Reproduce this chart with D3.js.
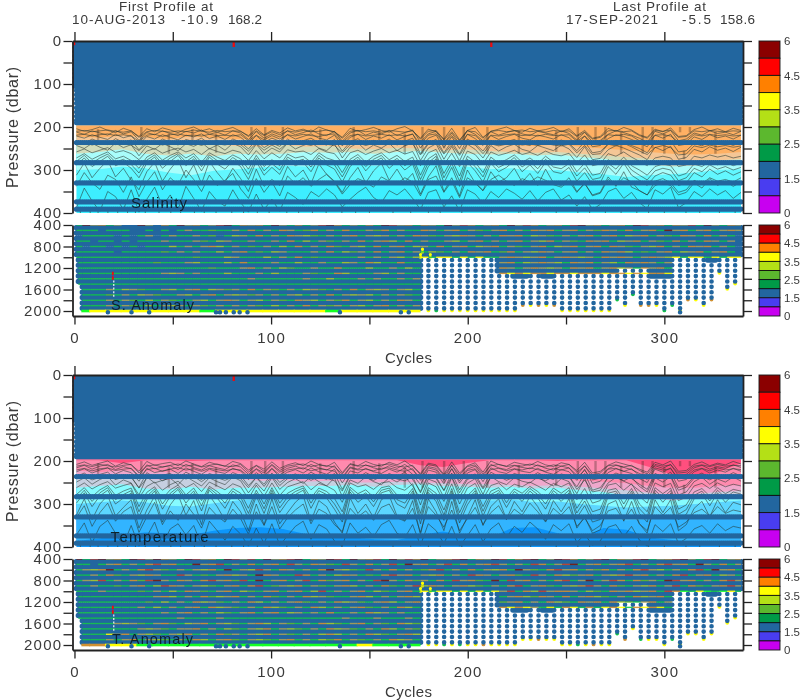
<!DOCTYPE html>
<html><head><meta charset="utf-8"><title>Float profiles</title>
<style>html,body{margin:0;padding:0;background:#fff}svg{display:block}</style>
<script src="https://cdn.jsdelivr.net/npm/d3@7"></script></head><body>
<div id="chart"></div>
<script>
// ---------- text ----------
const firstProfile = ["First Profile at","10-AUG-2013","-10.9","168.2"];
const lastProfile = ["Last Profile at","17-SEP-2021","-5.5","158.6"];
const panelNames = ["Salinity","S. Anomaly","Temperature","T. Anomaly"];
const colorbarLabels = ["6","4.5","3.5","2.5","1.5","0"];
const colorbarLabelIndex = [0,2,4,6,8,10];
const colorbarColors = ["#8b0000","#ff0000","#ff8000","#ffff00","#b4e014","#5cb82e","#009a46","#22669f","#4a3cf0","#c800f0"];
const upperTicks = [0,50,100,150,200,250,300,350,400];
const upperLabels = [0,100,200,300,400];
const lowerTicks = [400,600,800,1000,1200,1400,1600,1800,2000];
const lowerLabels = [400,800,1200,1600,2000];
const cycleTicks = [0,50,100,150,200,250,300];
const cycleLabels = [0,100,200,300];

// ---------- sampled levels ----------
const solidLevels = [5,15,25,35,45,55,65,75,85,95,105,115,125,135,145,155,165,175,185,190];
const bandLevels = [236,283,330,374,391];
const lowerLevels = [450,550,650,750,850,950,1050,1150,1250,1350,1450,1550,1650,1750,1850,1950];
const shallowFrom = [1,2,4,177,215,223,231,238,244,260,276,293,304,322,327];
const shallowMax  = [950,1450,1950,950,1250,1350,1250,1350,1250,1250,1150,1350,950,1050,950];
const deepCycles = [180,184,188,192,196,200,204,208,212,216,220,224,228,232,236,240,244,248,252,256,260,264,268,272,276,280,284,288,292,296,300,304,308,312,316,320,324,328,332,336];
const deepMax = [1950,1950,1950,1950,1950,1950,1950,1950,1950,1950,1950,1950,1850,1850,1850,1850,1850,1950,1950,1950,1950,1950,1950,1950,1750,1850,1650,1850,1850,1850,1950,1850,1950,1750,1750,1850,1750,1250,1550,1450];
const bottomDotCycles = [17,29,38,72,74,77,81,84,88,135,166,170,308];
const blobCycles = [177,177,176,176,181,181];
const blobLevels = [850,900,950,1000,950,1000];

// ---------- salinity contours (pressure along the cycles) ----------
const salContours = [
[204,210,206,200,208,213,203,209,222,204,211,202,207,213,205,200,209,204,212,206,201,210,220,204,218,208,214,202,209,205,212,200,207,211,224,203,210,206,201,208,212,204,199,209,226,205,211,228,203,230,208,201,224,210,205,200,208,212,203,209,206,201,211,204,220,208,226,222,203,210,201,207,218,224,205,211,202,222,220,206,200,209,204,211,203,208],
[210,208,211,209,207,210,212,209,224,211,208,210,212,209,211,207,210,212,208,211,209,210,222,209,220,211,218,209,212,208,211,210,207,212,226,210,208,211,209,212,208,210,212,209,228,210,208,230,211,232,209,211,226,210,208,211,209,207,211,209,212,208,210,209,222,212,228,224,209,208,211,209,220,226,208,210,207,224,222,209,211,208,210,211,209,210],
[212,217,209,214,219,208,216,211,231,213,218,209,215,220,210,214,207,217,212,219,209,214,229,211,226,216,223,209,218,213,207,216,220,210,233,214,208,219,212,216,209,220,213,207,235,216,210,238,214,239,208,217,232,211,219,213,208,216,220,210,214,218,209,215,230,212,235,231,217,209,213,219,226,236,210,216,208,232,228,214,219,209,215,212,218,210],
[219,217,221,218,216,220,218,221,233,219,217,222,218,216,220,219,221,217,220,219,221,218,232,219,230,220,228,218,221,217,220,222,218,216,236,220,217,221,219,217,220,218,221,217,240,219,216,238,220,241,217,220,236,219,221,218,216,220,218,221,217,220,219,218,233,221,238,235,218,220,217,221,232,238,219,218,221,235,233,218,221,217,220,218,221,219],
[221,226,218,224,229,217,225,220,241,222,228,218,224,230,219,223,216,227,221,229,218,224,239,220,236,226,233,218,228,222,216,226,230,219,244,224,217,229,221,226,218,230,222,216,249,226,219,248,223,250,217,227,243,220,229,222,217,226,230,219,223,228,218,225,241,221,246,243,227,218,222,229,237,246,219,226,217,243,240,223,229,218,225,221,228,219],
[232,238,228,235,241,227,236,230,253,233,240,228,235,242,229,234,226,239,231,241,228,235,251,230,248,237,245,228,239,232,226,237,242,229,256,235,227,241,231,237,228,242,233,226,262,237,229,260,234,263,228,239,256,231,242,234,229,239,243,231,236,241,230,238,255,234,260,257,240,231,236,243,250,260,234,241,232,258,255,238,244,233,240,236,243,234],
[240,236,242,237,234,241,238,242,255,239,236,242,238,235,240,237,243,236,239,242,237,241,256,238,254,242,252,237,240,239,243,236,240,243,260,241,237,243,238,236,241,237,242,239,265,240,236,263,241,266,238,242,262,239,244,240,237,242,239,243,238,242,244,240,260,243,264,262,240,244,238,246,256,264,248,243,248,265,263,244,248,242,246,243,247,244],
[243,250,238,247,254,237,248,241,267,244,252,238,246,255,239,245,236,251,242,254,238,246,265,240,262,249,258,238,251,243,236,249,255,239,272,247,237,254,242,249,238,255,244,236,278,249,239,275,245,279,240,252,272,243,256,246,240,252,257,243,249,255,242,251,271,246,276,273,253,243,249,257,265,276,247,255,245,275,271,252,258,246,254,249,257,247],
[258,251,260,254,248,259,255,262,276,256,250,261,254,249,258,252,264,250,257,262,254,259,278,255,274,260,272,253,258,256,264,250,258,262,284,260,254,264,256,250,260,254,263,257,290,260,252,288,261,292,256,264,286,258,266,261,254,264,259,266,256,264,267,261,284,265,290,286,262,268,258,270,280,290,272,268,272,292,288,268,272,265,270,266,272,268],
[272,262,275,266,258,274,268,278,296,270,260,277,266,258,272,262,282,260,270,278,265,274,298,266,292,276,290,263,272,268,282,260,272,278,306,275,264,282,268,260,276,266,280,270,312,274,262,308,276,314,268,282,306,270,284,276,265,282,272,286,268,282,286,276,304,284,312,308,276,288,270,290,300,312,292,286,290,314,308,286,292,280,288,282,290,284],
[280,266,284,272,263,282,275,287,307,277,265,286,272,262,281,268,292,265,278,288,271,283,310,273,302,285,300,270,281,275,293,266,280,288,316,283,270,292,275,266,286,273,290,278,322,283,268,318,285,326,275,292,316,277,294,285,271,293,280,297,275,293,297,285,314,295,322,318,284,298,277,300,312,323,302,296,300,325,318,296,304,288,298,292,300,294],
[288,272,292,280,268,290,282,296,318,284,270,296,280,266,290,274,302,270,286,298,278,292,322,280,312,294,310,276,290,282,304,272,288,298,328,292,276,302,282,272,296,280,300,286,334,292,274,330,294,338,282,302,328,284,304,294,278,304,288,308,282,304,308,294,326,306,334,330,292,310,284,312,324,336,314,306,312,336,330,306,316,298,310,302,312,304],
[312,284,318,296,278,316,296,324,346,304,282,326,298,276,318,288,332,280,306,328,296,320,350,298,338,322,336,292,316,300,332,286,310,326,352,318,294,330,302,284,324,298,328,308,356,316,290,350,318,360,300,330,348,304,328,318,296,328,308,336,298,330,336,318,350,332,358,352,316,338,304,340,348,358,336,330,336,358,352,330,342,320,336,326,338,328],
[338,306,330,345,312,322,352,316,362,328,304,346,318,334,300,322,350,312,336,324,308,344,366,320,352,328,360,314,332,318,338,322,310,328,356,334,320,328,340,316,326,332,318,328,360,322,314,352,326,364,318,330,348,322,312,326,336,320,328,316,324,334,340,326,352,330,360,354,322,336,318,328,348,358,326,320,330,352,346,324,332,318,326,322,328,318],
[388,342,372,396,350,362,392,346,398,368,340,384,358,392,338,366,396,350,372,384,346,376,398,356,392,368,396,352,364,380,350,362,344,358,386,368,352,340,364,376,348,358,344,366,392,352,346,386,360,396,346,356,378,350,364,344,354,368,348,372,352,344,370,358,384,362,392,380,350,342,366,352,376,390,346,356,340,388,376,350,362,344,358,348,366,352]
];
const salFill = [
[222,225,220,224,228,222,226,228,230,226,232,228,234,236,232,236,240,236,238,242,244,240,246,250,254,258,262,264,262,258],
[236,240,236,238,242,238,240,244,246,242,246,244,250,252,248,250,254,252,256,258,260,258,262,266,270,274,278,280,278,274],
[262,258,252,262,266,262,268,262,264,262,258,260,258,262,258,256,260,262,264,262,266,264,270,274,282,288,292,290,284,282],
[300,298,292,296,306,312,302,298,294,290,292,288,286,290,288,284,290,292,298,296,302,300,306,310,316,312,310,306,300,298],
[330,328,326,330,332,328,330,332,330,328,326,328,330,332,328,330,332,330,334,332,330,332,334,336,338,336,334,332,330,328]
];
const salFillColors = ["#ffb063","#f4c696","#d3ddbc","#a9fdfb","#62f7ff","#3ceeff"];

// ---------- temperature contours ----------
const tempContours = [
[208,202,210,205,200,212,204,209,224,201,210,206,203,211,200,207,213,203,208,212,201,206,221,210,219,202,217,209,204,211,200,208,213,203,227,206,211,201,208,212,203,209,200,213,229,205,209,231,202,228,211,204,226,200,208,212,203,207,210,201,209,213,204,208,222,203,228,224,210,202,207,212,219,226,203,209,200,224,222,208,202,211,205,209,201,207],
[212,209,213,208,211,214,210,208,228,212,209,214,210,207,212,209,214,210,207,212,213,208,226,211,224,208,222,212,209,207,213,209,211,214,230,208,212,210,213,209,207,212,214,210,232,208,212,234,210,232,213,209,230,211,208,213,210,212,207,211,214,209,212,208,226,212,232,228,211,209,214,210,222,230,208,212,209,228,226,212,209,213,208,212,210,211],
[216,210,219,212,208,220,213,218,234,209,218,214,211,220,208,215,221,211,216,220,209,214,231,218,228,210,226,217,212,219,208,216,221,211,238,214,219,209,216,220,211,217,208,221,240,213,217,242,210,239,219,212,236,208,216,220,211,215,218,209,217,221,212,216,233,211,239,235,218,210,215,220,229,237,211,217,208,234,231,216,210,219,213,217,209,215],
[221,217,223,218,216,222,219,217,238,220,217,224,219,215,221,218,224,217,220,223,219,221,236,219,234,217,232,221,218,216,223,218,220,224,241,216,221,219,223,217,216,221,224,218,245,216,221,245,218,246,222,218,240,220,217,223,218,221,216,220,224,217,221,216,238,222,244,240,219,217,224,218,234,243,216,221,218,240,236,221,217,223,216,221,218,220],
[225,218,228,221,216,230,222,227,247,217,227,223,219,229,216,224,231,219,225,229,217,223,243,227,240,218,237,226,220,228,216,225,231,219,251,223,228,217,225,229,219,226,216,231,255,221,226,253,218,251,228,220,248,216,225,229,219,224,227,217,226,231,220,225,245,219,252,247,227,218,224,229,241,250,219,226,216,247,243,225,218,228,221,226,217,224],
[236,228,240,231,226,242,232,238,262,227,238,233,229,241,226,235,243,229,236,241,227,234,257,238,254,228,250,237,230,239,226,236,243,229,266,233,239,227,236,241,229,237,226,243,271,231,237,268,228,267,239,230,262,226,236,241,229,235,238,227,237,243,230,236,260,229,268,262,238,228,235,241,254,266,229,237,226,262,256,236,228,240,231,237,227,235],
[242,235,244,238,233,243,238,236,263,240,234,246,238,232,242,236,248,235,239,245,237,241,262,238,259,235,257,241,237,234,245,236,240,246,270,235,241,238,245,236,233,242,246,237,274,235,241,269,237,274,243,236,265,239,235,245,237,241,234,240,246,236,241,235,266,244,272,268,238,236,246,237,259,272,235,241,236,268,261,240,236,244,235,241,237,239],
[249,239,254,243,236,256,244,251,279,237,251,245,240,255,236,247,258,239,248,255,237,246,274,251,270,238,266,250,241,252,236,248,258,239,283,244,252,237,248,255,239,249,236,258,289,242,249,285,238,284,252,241,278,236,248,255,239,247,251,237,249,258,241,248,276,239,285,278,251,238,247,255,269,283,239,249,236,279,272,248,238,254,242,249,237,247],
[262,251,265,255,248,263,257,252,286,259,249,268,255,247,262,252,271,249,258,267,253,260,288,256,282,251,280,260,254,248,267,252,258,268,296,251,260,255,266,251,248,262,268,253,302,251,260,294,253,300,263,252,288,257,251,267,254,260,249,258,268,252,260,251,290,264,298,292,256,252,268,253,282,298,251,260,252,292,284,258,252,264,251,260,254,258],
[278,262,283,267,257,280,270,263,306,273,260,288,267,256,279,263,292,259,271,286,264,275,310,268,300,262,298,275,265,258,286,263,271,287,318,261,276,267,284,262,258,279,287,264,322,262,275,314,264,320,281,263,306,270,262,286,265,275,259,271,288,263,275,262,310,282,318,312,268,264,288,264,300,318,262,276,263,312,302,272,264,282,262,276,266,270],
[288,268,294,274,262,290,278,269,318,282,265,300,275,261,288,270,304,263,278,298,270,284,322,275,311,268,309,284,271,263,298,269,278,300,330,266,286,274,295,268,263,290,298,270,334,267,284,326,270,332,291,269,317,278,268,297,271,284,264,278,300,269,284,268,321,293,330,324,275,270,300,270,311,330,268,286,269,324,313,280,270,293,268,286,272,277],
[298,274,306,281,268,300,286,275,330,290,270,312,282,266,298,276,316,268,286,310,277,294,334,282,322,274,320,294,278,268,310,276,286,312,342,272,296,282,306,274,268,300,310,276,346,273,294,338,276,344,302,275,328,286,274,308,277,294,270,286,312,276,294,274,332,304,342,336,282,276,312,276,322,342,274,296,275,336,324,288,276,304,274,296,278,284],
[326,288,336,300,280,328,308,290,356,314,282,342,302,278,326,292,348,280,306,338,294,318,362,300,348,288,346,320,296,280,340,292,306,342,368,286,322,300,332,290,280,328,338,292,372,288,318,362,294,368,330,290,350,306,288,336,294,318,282,306,340,292,318,288,356,330,368,360,300,292,340,294,346,368,290,320,290,362,348,310,294,330,290,320,296,302],
[332,304,352,320,298,340,318,306,366,330,296,348,316,338,300,324,356,308,328,342,312,334,370,318,350,306,358,332,314,300,346,312,322,348,364,310,330,316,338,308,300,332,340,310,366,306,326,354,314,362,334,308,348,320,304,336,312,326,298,318,342,310,326,306,352,332,362,350,316,310,338,312,346,362,306,326,308,354,342,320,312,328,306,322,314,318],
[372,344,390,352,338,368,396,350,398,376,342,394,358,346,372,350,396,340,362,384,352,370,398,356,392,346,396,374,352,340,382,348,358,386,398,344,368,354,376,348,338,368,378,348,396,346,362,392,352,398,374,348,388,358,344,378,352,366,342,358,382,348,362,346,390,370,396,386,354,348,376,352,384,398,348,364,346,392,380,358,350,368,346,362,352,356]
];
const tempFill = [
[198,198,205,198,198,200,198,198,198,198,198,198,198,198,198,210,214,205,198,198,198,200,198,198,198,214,232,236,226,205],
[222,226,222,224,226,224,226,228,230,228,232,230,234,232,230,234,240,236,240,244,244,242,246,248,252,258,262,262,258,256],
[238,242,240,242,244,240,240,242,246,244,248,246,250,250,248,250,252,254,254,256,258,256,260,264,268,274,278,276,272,270],
[262,258,254,264,266,260,266,262,262,260,258,258,256,260,256,254,258,260,262,260,264,262,268,272,280,286,292,288,282,280],
[300,296,292,296,304,306,298,292,288,286,288,284,284,286,284,282,286,288,292,290,296,294,300,304,308,306,304,300,296,292],
[336,332,328,332,334,330,332,336,330,326,326,328,330,330,326,328,330,328,332,330,328,330,332,336,338,336,332,330,328,326],
[386,380,372,366,368,372,362,356,354,358,370,376,378,382,384,372,364,374,380,356,354,368,380,356,360,378,384,388,388,386]
];
const tempFillColors = ["#ff4f7e","#ff8aae","#efa8cc","#c6cfe0","#86fbff","#5cd6ff","#30b4ff","#0a96fb"];

// dark streaks where the contours crowd together
const streakCycles = [12,34,48,60,72,90,97,106,125,142,155,168,177,188,198,210,226,245,256,265,270,278,289,294,300,308,313,310,326];
const streakTop =    [205,200,215,205,215,200,200,200,205,200,205,215,200,200,200,200,210,210,200,200,200,212,200,200,215,200,200,255,212];
const streakBottom = [232,236,262,240,260,236,232,236,232,236,230,262,262,250,236,262,262,258,232,236,232,262,262,250,262,212,212,275,262];
// short vertical marks below the deepest row
const deepMarkCycles = [3,8,12,17,22,27,31,36,43,49,54,61,66,72,80,86,93,99,108,114,121,128,136,143,150,162,171,180,186,197,212,226,232,245,256,262,270,278,286,292,300,311,318,328,336];
const redMarkCycles = [81,212];
const redMarkCyclesT = [81];

// ---------- anomaly stripes, one character per 4 cycles ----------
const stripeLevels = [400,500,600,700,800,900,1000,1100,1200,1300,1400,1500,1600,1700,1800,1900];
const salStripes = [
"gdnogn..dn.ogdnognrdgonogdngognrdogngogdrnogongdnrognogdnrognogrdnognogdrnogonrgdngon",
"ggg.ggg..g.g.gngglggngogngonglogngoggnlognggongnognlgnogngonognognlongognogdnognognon",
".gggg.g.gn.gnggngl.gyngogngonylgngnognyngngonlgnyongngonogynlgngnognogynognlgongogng",
"gg.gg.g.gggngggnlgynggnggngogygnlgngognoygognggnygnogngnognyognlgonogynognlgogngongn",
"g.gg.g.g.gggygngnoygnglgngygogngolgnygognogyngognogynognlgnogynognogonlgnyogngonogng",
"ggggg.ggggglgngnggygnoglgyngggngogylngognogngylgngonoglognyongnogngonoyglgnogynognog",
"ggggggggggggggglgggyngggygngoglgggggngngnygyYgYYgYgYggnonynognonyngonongnonyYgYYgYgYY",
"gggggggggglgggnygggygogggnggyggnggyngoyggogg..........nogynonygonognygonongn",
"ggggggggggggggggglgggnogngylggnggogggyggngyg..........ongnonyngonognoyngonog",
"gggggggggggnyngngggygggngygggnlggoygggnygngg..........oYoYooYooYoooYooYoYooY",
"ggggggggggggggggggggggnggggggnggygggngnggngn",
"gggggggggggggggggggggggggggggggggggggggggggg",
"ggggngynlggnygnogynlngognlgngynlgngognyngnyg",
"gggglgngynlggnygnognynlngngnygngognynygngnlg",
"ggggngnlgygnlggnygnongnygnlgonygnlognygngong",
"ggggngnlgygnyngnlgngngnlgygngognlngnygnogngn"
];
const tempStripes = [
"dgrdnogdrndongdrnogdrnrgdnordgondrgdnorgdnrodgnordgondrgordgndrognrdgonrdgnordngrdgnor",
"gg.gnogngornoggdnorgngognogrngonlgrngognrgdnognrgognorngngrognrdgnognorgngornogdngogn",
"gnyodgngornlgngnyogdgnyrngongngodnylgrngognglorgngognyogdnlgornognlogngornygngorgdnog",
"ggngolgnyonggrnglgnoyngdonggrogngyonglgornognyogngrongnolgrngoylnognyornogngorgnogyng",
"gnyrgngolrdngongornolrgdgnognrgolnogngrdngolngogrnolgdgrnogngorgndgnrogolngdrnogngorn",
"ggngglgnogyrongnylgnogorglnyognlgnoygngolgnryongnoylgngorgnolgnyorngolgnyognrgolgnorn",
"gggngggglgngygonlgnogylgnognogyrgngnogylgnogYgYYgYgYgYnrgoyrnoongylgonoynogroGgYGgGYgG",
"ggggggggggnoygngolynogngolgngoynlggnoygngnoy..........gnoylongognoylgngoynog",
"ggggggggglgygngoynlgngoygngnolgngoynlgnoygno..........lnogngoylgonogoylgnogn",
"ggggggggngygngnogoynlgngoylgngoygngnolgngoyg..........oYoYngYgoYgogYoYgoYoYg",
"gggggggggggngnogngylgnognogyngngoggngoyngngg",
"gggggggggggggnggggngggggggggggggggngggngggng",
"gggggnynlgnolgynognylgnoygnlgngoylgnognlgoyl",
"ggggggggnynlgnnogngylgnyognylgngoynlgngoygnl",
"ggggYnognylgnyogngolngnyognlgngyoygngoylgnoy",
"ggggngnognylgngoygnolgnylgnogngylognlgngoyng"
];
const salBottomRow = "GYYYYYYYGYYYYYYYGYYYYY";
const tempBottomRow = "ooYYGGGGGGGGGGGGGGYGGG";
const salTips = "YgYYYYYYYYYYoYoYoYYYYYYYgYgooYggYoYYoYYY";
const tempTips = "YYgYgYYoYYYYYYoYYYYgYoYYgoYgYYYgYYYYYYYY";
const stripeColors = {g:"#12c24a",G:"#14ff28",l:"#5cb82e",y:"#a8c82a",Y:"#ffff00",o:"#d09030",n:"#a8a055",r:"#c8402a",d:"#7a1a10"};
const dotBlue = "#22669f";

// ---------- layout ----------
const W=800,H=700,xL=72.5,xR=743;
const svg=d3.select("#chart").append("svg").attr("width",W).attr("height",H).attr("viewBox",[0,0,W,H]);
const defs=svg.append("defs");
defs.append("filter").attr("id","soft").attr("filterUnits","userSpaceOnUse").attr("x",0).attr("y",0).attr("width",W).attr("height",H)
  .append("feGaussianBlur").attr("stdDeviation",0.42);
const root=svg.append("g").attr("filter","url(#soft)");
const ink="#3a3a3a";
const font="'Liberation Sans',Arial,sans-serif";
const x=d3.scaleLinear().domain([-1,340]).range([xL,xR]);
const cyc=d3.range(1,340);
const cycWide=d3.range(0,341);

function dots(g,pts,r,color){
  const p=d3.path();
  pts.forEach(d=>{p.moveTo(d[0],d[1]);p.lineTo(d[0]+0.01,d[1]);});
  g.append("path").attr("d",p.toString()).attr("fill","none").attr("stroke",color)
   .attr("stroke-width",2*r).attr("stroke-linecap","round");
}
function clip(id,x0,y0,w,h){defs.append("clipPath").attr("id",id).append("rect").attr("x",x0).attr("y",y0).attr("width",w).attr("height",h);}
function alongCycle(arr){return d3.scaleLinear().domain([0,arr.length-1]).range([1,339]);}

function styleAxis(g){
  g.selectAll("path.domain").attr("stroke","#222").attr("stroke-width",1.8);
  g.selectAll(".tick line").attr("stroke","#222").attr("stroke-width",1.3);
  g.selectAll("text").attr("fill",ink).attr("font-family",font).attr("font-size",15).attr("letter-spacing",1.3);
}
function yAxes(g,y,ticks,labels){
  const fmt=d=>labels.includes(d)?d:"";
  g.append("g").attr("transform",`translate(${xL},0)`).call(d3.axisLeft(y).tickValues(ticks).tickFormat(fmt).tickSize(9).tickSizeOuter(0).tickPadding(1)).call(styleAxis);
  g.append("g").attr("transform",`translate(${xR},0)`).call(d3.axisRight(y).tickValues(ticks).tickFormat("").tickSize(9).tickSizeOuter(0)).call(styleAxis);
}
function colorbar(g,top,bottom,fs){
  const band=d3.scaleBand().domain(d3.range(colorbarColors.length)).range([top,bottom]);
  g.selectAll(null).data(colorbarColors).join("rect").attr("x",759).attr("width",21)
    .attr("y",(d,i)=>band(i)).attr("height",band.bandwidth()).attr("fill",d=>d).attr("stroke","#111").attr("stroke-width",0.9);
  g.selectAll(null).data(colorbarLabels).join("text").text(d=>d).attr("x",784)
    .attr("y",(d,i)=>top+colorbarLabelIndex[i]*band.step()).attr("dy","0.36em")
    .attr("font-family",font).attr("font-size",fs).attr("fill",ink);
}
function plain(g,str,xx,yy,len,size,col){
  const t=g.append("text").text(str).attr("x",xx).attr("y",yy).attr("dy","0.36em").attr("font-family",font)
    .attr("font-size",size).attr("fill",col||ink);
  if(len)t.attr("textLength",len).attr("lengthAdjust","spacing");
  return t;
}

function upperPanel(id,top,fills,fillColors,contours,redCycles,name,nameX,nameLen){
  const g=root.append("g");
  const y=d3.scaleLinear().domain([0,400]).range([top,top+172]);
  clip(id,xL,top,xR-xL,172);
  clip(id+"b",74,y(196),667.8,y(400)-y(196));
  const body=g.append("g").attr("clip-path",`url(#${id})`);
  const band=body.append("g").attr("clip-path",`url(#${id}b)`);
  band.append("rect").attr("x",x(1)).attr("y",y(196)).attr("width",x(339)-x(1)).attr("height",y(400)-y(196)).attr("fill",fillColors[fillColors.length-1]);
  for(let k=fills.length-1;k>=0;k--){
    const a=fills[k],s=alongCycle(a);
    band.append("path").attr("fill",fillColors[k])
      .attr("d",d3.area().x((d,i)=>x(s(i))).y0(y(196)).y1(d=>y(d))(a));
  }
  contours.forEach(c=>{
    const s=alongCycle(c);
    band.append("path").attr("fill","none").attr("stroke","#2a3a34").attr("stroke-opacity",0.68).attr("stroke-width",0.85)
      .attr("d",d3.line().x((d,i)=>x(s(i))).y(d=>y(d))(c));
  });
  band.selectAll(null).data(streakCycles).join("line")
    .attr("x1",d=>x(d)).attr("x2",d=>x(d)).attr("y1",(d,i)=>y(streakTop[i])).attr("y2",(d,i)=>y(streakBottom[i]))
    .attr("stroke","#2a2018").attr("stroke-opacity",0.3).attr("stroke-width",2.4);
  band.selectAll(null).data(deepMarkCycles).join("line")
    .attr("x1",d=>x(d)).attr("x2",d=>x(d)).attr("y1",y(393)).attr("y2",y(400))
    .attr("stroke","#2a3a34").attr("stroke-opacity",0.7).attr("stroke-width",0.9);
  const solid=[];
  solidLevels.forEach(p=>(p<=110?cycWide:cyc).forEach(c=>solid.push([x(c),y(p)])));
  dots(body,solid,2.5,dotBlue);
  const rows=[];
  bandLevels.forEach(p=>cyc.forEach(c=>rows.push([x(c),y(p)])));
  dots(body,rows,2.6,dotBlue);
  body.selectAll(null).data(redCycles).join("line")
    .attr("x1",d=>x(d)).attr("x2",d=>x(d)).attr("y1",y(0)).attr("y2",y(14))
    .attr("stroke","#f00808").attr("stroke-width",2.2);
  body.append("line").attr("x1",x(0)).attr("x2",x(0)).attr("y1",y(0)).attr("y2",y(10)).attr("stroke","#f00808").attr("stroke-width",1.6);
  g.append("g").attr("transform",`translate(0,${top})`)
    .call(d3.axisTop(x).tickValues(cycleTicks).tickFormat("").tickSize(9).tickSizeOuter(0)).call(styleAxis);
  yAxes(g,y,upperTicks,upperLabels);
  plain(g,"Pressure (dbar)",0,0,121,16).attr("text-anchor","middle").attr("transform",`translate(12,${top+86.5}) rotate(-90)`);
  colorbar(g,top,top+172,11.5);
  plain(g,name,nameX,y(376),nameLen,15,"#10202c");
}

function lowerPanel(id,top,stripes,bottomRow,tips,name,nameX,nameLen,gapTop,gapBottom){
  const g=root.append("g");
  const y=d3.scaleLinear().domain([400,2092.6]).range([top,top+91]);
  clip(id,xL,top,xR-xL+0.5,91);
  const body=g.append("g").attr("clip-path",`url(#${id})`);
  const solidUntil=c=>{let m=0;shallowFrom.forEach((f,i)=>{if(c>=f)m=shallowMax[i];});return m;};
  // bottom tips of deep columns
  deepCycles.forEach((c,i)=>{
    const col=stripeColors[tips[i]];
    if(col)body.append("circle").attr("cx",x(c)).attr("cy",y(deepMax[i]+38)).attr("r",1.9).attr("fill",col);
  });
  const solid=[],deep=[];
  lowerLevels.forEach(p=>cyc.forEach(c=>{if(p<=solidUntil(c))solid.push([x(c),y(p)]);}));
  deepCycles.forEach((c,i)=>lowerLevels.forEach(p=>{if(p<=deepMax[i]&&p>solidUntil(c))deep.push([x(c),y(p)]);}));
  dots(body,solid,2.75,dotBlue);
  dots(body,deep,2.3,dotBlue);
  // bottom row, 2000 dbar
  bottomRow.split("").forEach((ch,i)=>{
    const a=Math.max(8*i,4),b=8*i+8;
    body.append("rect").attr("x",x(a)-1).attr("width",x(b)-x(a)+1).attr("y",y(2000)-1.3).attr("height",2.6).attr("fill",stripeColors[ch]);
  });
  dots(body,bottomDotCycles.map(c=>[x(c),y(2022)]),2.3,dotBlue);
  // yellow blob where the deep sampling changes
  dots(body,blobCycles.map((c,i)=>[x(c),y(blobLevels[i])]),1.6,"#ffff00");
  // anomaly stripes between sampled levels
  stripes.forEach((s,k)=>{
    const p=stripeLevels[k];
    let startC=1;
    for(let i=0;i<shallowFrom.length&&shallowFrom[i]<177;i++){if(shallowMax[i]>=p-50){startC=shallowFrom[i];break;}}
    s.split("").forEach((ch,i)=>{
      const col=stripeColors[ch];if(!col)return;
      const a=Math.max(4*i,startC),b=Math.min(4*i+4,339);
      if(b<=a)return;
      body.append("rect").attr("x",x(a)).attr("width",x(b)-x(a)).attr("y",y(p)-0.7).attr("height",1.4).attr("fill",col).attr("opacity",0.9);
    });
  });
  // the gap and red marks of cycle 20
  body.append("line").attr("x1",x(19.5)).attr("x2",x(19.5)).attr("y1",y(gapTop)).attr("y2",y(gapTop+150))
    .attr("stroke","#f00808").attr("stroke-width",1.8).attr("stroke-dasharray","3.5,1");
  body.append("line").attr("x1",x(20)).attr("x2",x(20)).attr("y1",y(gapTop+160)).attr("y2",y(gapBottom))
    .attr("stroke","#fff").attr("stroke-width",1.1).attr("stroke-dasharray","2,1.6");
  g.append("g").attr("transform",`translate(0,${top+91})`)
    .call(d3.axisBottom(x).tickValues(cycleTicks).tickFormat(d=>cycleLabels.includes(d)?d:"").tickSize(8.5).tickSizeOuter(0).tickPadding(8)).call(styleAxis);
  yAxes(g,y,lowerTicks,lowerLabels);
  colorbar(g,top,top+91,11.5);
  plain(g,name,nameX,y(1880),nameLen,14.5,"#10202c");
  plain(g,"Cycles",385,top+133,47,15);
}

upperPanel("p1",41,salFill,salFillColors,salContours,redMarkCycles,panelNames[0],131,56);
lowerPanel("p2",225,salStripes,salBottomRow,salTips,panelNames[1],111,83,1270,1760);
upperPanel("p3",375,tempFill,tempFillColors,tempContours,redMarkCyclesT,panelNames[2],110.5,98);
lowerPanel("p4",559,tempStripes,tempBottomRow,tempTips,panelNames[3],112,81,1270,1760);

// header
const hd=root.append("g");
plain(hd,firstProfile[0],119,6.5,94,13.5);
plain(hd,firstProfile[1],72,19,93,13.5);
plain(hd,firstProfile[2],181,19,37,13.5);
plain(hd,firstProfile[3],228,19,34,13.5);
plain(hd,lastProfile[0],613,6.5,93,13.5);
plain(hd,lastProfile[1],566,19,92,13.5);
plain(hd,lastProfile[2],682,19,29,13.5);
plain(hd,lastProfile[3],720,19,35,13.5);
</script></body></html>
